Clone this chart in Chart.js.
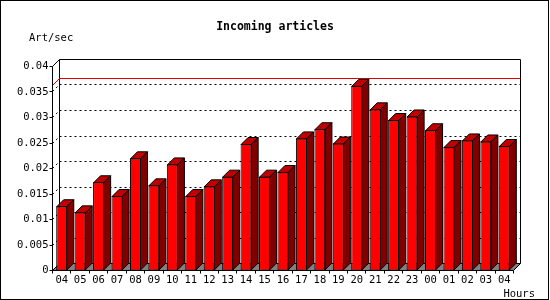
<!DOCTYPE html>
<html><head><meta charset="utf-8">
<script src="https://cdn.jsdelivr.net/npm/chart.js@4/dist/chart.umd.min.js"></script>
<style>html,body{margin:0;padding:0;background:#fff;}#wrap{width:550px;height:300px;position:relative;}</style>
</head><body><div id="wrap"><canvas id="c"></canvas></div>
<script>
// ---- data ----
const hours = ['04','05','06','07','08','09','10','11','12','13','14','15','16','17','18','19','20','21','22','23','00','01','02','03','04'];
const articlesPerSec = [0.0126,0.0114,0.0173,0.0146,0.0220,0.0167,0.0208,0.0146,0.0165,0.0184,0.0248,0.0184,0.0193,0.0259,0.0277,0.0249,0.0362,0.0316,0.0295,0.0302,0.0275,0.0242,0.0255,0.0253,0.0244];
const yTickLabels = ['0','0.005','0.01','0.015','0.02','0.025','0.03','0.035','0.04'];
const titleText = 'Incoming articles';
const yUnitLabel = 'Art/sec';
const xUnitLabel = 'Hours';

// ---- styling ----
const DEPTH = 7;
const MONO = '"DejaVu Sans Mono", "Liberation Mono", monospace';
const crisp = v => Math.floor(v) + 0.5;

function line(ctx, pts, color, dash) {
  ctx.save();
  ctx.strokeStyle = color; ctx.lineWidth = 1;
  ctx.setLineDash(dash || []);
  ctx.beginPath();
  pts.forEach((p, i) => i ? ctx.lineTo(p[0], p[1]) : ctx.moveTo(p[0], p[1]));
  ctx.stroke();
  ctx.restore();
}
function poly(ctx, pts, fill, stroke) {
  ctx.save();
  ctx.beginPath();
  pts.forEach((p, i) => i ? ctx.lineTo(p[0], p[1]) : ctx.moveTo(p[0], p[1]));
  ctx.closePath();
  ctx.fillStyle = fill; ctx.fill();
  if (stroke) { ctx.strokeStyle = stroke; ctx.lineWidth = 1; ctx.stroke(); }
  ctx.restore();
}

const threeD = {
  id: 'threeD',
  beforeDraw(chart) {
    const ctx = chart.ctx;
    ctx.save(); ctx.fillStyle = '#fff'; ctx.fillRect(0, 0, chart.width, chart.height); ctx.restore();
  },
  beforeDatasetsDraw(chart) {
    const {ctx, chartArea: ca, scales: {x: xs, y: ys}} = chart;
    const D = DEPTH;
    const L = crisp(ca.left), R = crisp(ca.right), T = crisp(ca.top), B = crisp(ca.bottom);
    // back plane
    ctx.save(); ctx.fillStyle = '#fff'; ctx.fillRect(L + D, T - D, R - L, B - T); ctx.restore();
    // dotted grid on back wall + side wall
    ys.ticks.forEach(t => {
      if (t.value <= ys.min || t.value >= ys.max) return;
      const y = crisp(ys.getPixelForValue(t.value));
      line(ctx, [[L + D, y - D], [R + D, y - D]], '#000', [2, 3]);
      line(ctx, [[L, y], [L + D, y - D]], '#000', [2, 3]);
    });
    // floor
    poly(ctx, [[L, B], [R, B], [R + D, B - D], [L + D, B - D]], '#808080');
    // back plane outline
    line(ctx, [[L + D, B - D], [L + D, T - D], [R + D, T - D], [R + D, B - D], [L + D, B - D]], '#000');
    // max line
    const maxV = Math.max(...articlesPerSec);
    const ym = crisp(ys.getPixelForValue(maxV));
    line(ctx, [[L, ym], [L + D, ym - D], [R + D, ym - D]], '#e00000');
    // front axes
    line(ctx, [[L + D, T - D], [L, T], [L, B], [R, B], [R + D, B - D]], '#000');
    line(ctx, [[L, B], [L + D, B - D]], '#000');
    // y tick marks
    ys.ticks.forEach(t => {
      const y = crisp(ys.getPixelForValue(t.value));
      line(ctx, [[L - 3, y], [L, y]], '#000');
    });
    // x tick marks at category boundaries
    const n = hours.length;
    const slot = (ca.right - ca.left) / n;
    for (let i = 0; i <= n; i++) {
      const x = crisp(xs.getPixelForValue(Math.min(i, n - 1)) + (i === n ? slot / 2 : -slot / 2));
      line(ctx, [[x, B], [x, B + 3]], '#000');
    }
  },
  afterDatasetsDraw(chart) {
    const ctx = chart.ctx, D = DEPTH;
    const meta = chart.getDatasetMeta(0);
    meta.data.forEach(bar => {
      const {x, y, base, width} = bar.getProps(['x', 'y', 'base', 'width'], true);
      const l = x - width / 2 + 0.5, r = x + width / 2 - 0.5;
      const t = y + 0.5, b = base - 0.5;
      poly(ctx, [[l, t], [l + D, t - D], [r + D, t - D], [r, t]], '#c00000', '#000');
      poly(ctx, [[r, t], [r + D, t - D], [r + D, b - D], [r, b]], '#800000', '#000');
    });
  },
  afterDraw(chart) {
    const ctx = chart.ctx;
    ctx.save();
    ctx.fillStyle = '#000';
    ctx.font = '10.5px ' + MONO;
    ctx.textBaseline = 'alphabetic';
    ctx.textAlign = 'left';
    ctx.fillText(yUnitLabel, 29, 40.5);
    ctx.textAlign = 'right';
    ctx.fillText(xUnitLabel, 535, 296.5);
    ctx.strokeStyle = '#000'; ctx.lineWidth = 1;
    ctx.strokeRect(0.5, 0.5, 548, 299);
    ctx.restore();
  }
};

Chart.defaults.font.family = MONO;
Chart.defaults.color = '#000';

new Chart(document.getElementById('c'), {
  type: 'bar',
  data: {
    labels: hours,
    datasets: [{
      label: yUnitLabel,
      data: articlesPerSec,
      backgroundColor: '#ff0000',
      borderColor: '#000',
      borderWidth: 1,
      borderSkipped: false,
      categoryPercentage: 1,
      barPercentage: 0.6
    }]
  },
  options: {
    responsive: true,
    maintainAspectRatio: false,
    animation: false,
    events: [],
    layout: {padding: {left: 0, right: 0, top: 0, bottom: 0}},
    plugins: {
      legend: {display: false},
      tooltip: {enabled: false},
      title: {
        display: true, text: titleText, color: '#000',
        font: {family: MONO, size: 11.5, weight: 'bold', lineHeight: 1.2},
        padding: {top: 20, bottom: 32.7}
      }
    },
    scales: {
      x: {
        grid: {display: false, drawTicks: false},
        border: {display: false},
        ticks: {font: {size: 10.5}, padding: 3, maxRotation: 0, autoSkip: false},
        afterFit: s => { s.height = 29.5; }
      },
      y: {
        min: 0, max: 0.04,
        grid: {display: false, drawTicks: false},
        border: {display: false},
        ticks: {stepSize: 0.005, font: {size: 10.5}, padding: 4,
                callback: (v, i) => yTickLabels[i]},
        afterFit: s => { s.width = 52.5; }
      },
      spacer: {
        type: 'linear', position: 'right', display: true,
        grid: {display: false, drawTicks: false},
        border: {display: false},
        ticks: {display: false},
        afterFit: s => { s.width = 36.5; }
      }
    }
  },
  plugins: [threeD]
});
</script>
</body></html>
